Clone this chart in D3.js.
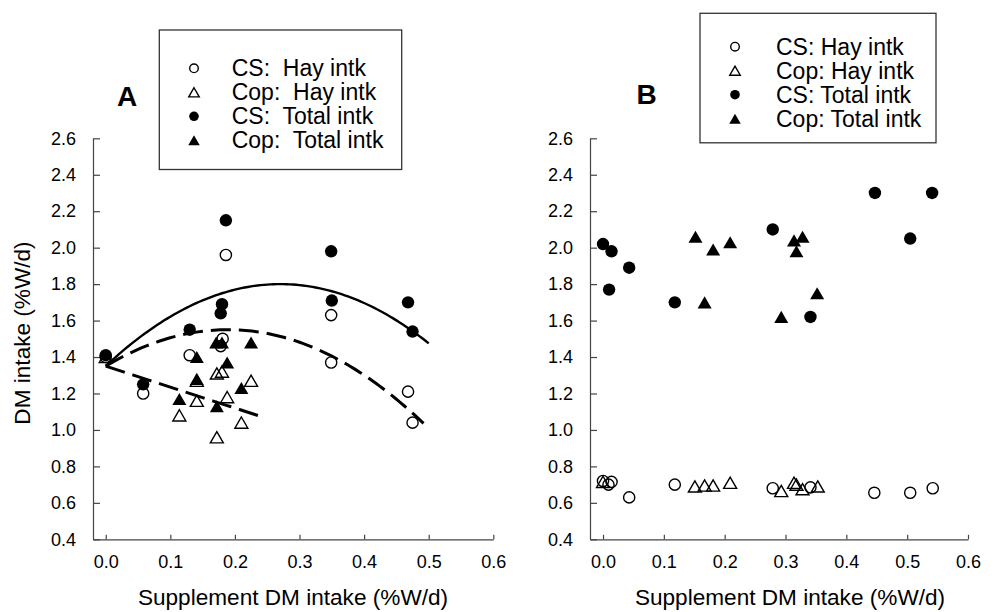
<!DOCTYPE html>
<html><head><meta charset="utf-8">
<script src="https://cdn.jsdelivr.net/npm/d3@7"></script>
<style>
body{margin:0;background:#fff}
text{font-family:Arial,"Liberation Sans",sans-serif;fill:#000}
</style>
</head><body>
<svg id="c" width="1005" height="612"></svg>
<script>
// ---------- tick labels ----------
const xTicks = [0.0, 0.1, 0.2, 0.3, 0.4, 0.5, 0.6];
const yTicks = [0.4, 0.6, 0.8, 1.0, 1.2, 1.4, 1.6, 1.8, 2.0, 2.2, 2.4, 2.6];

// ---------- Panel A data ----------
const aCSHay = [[0.0,1.40],[0.058,1.20],[0.130,1.41],[0.181,1.50],[0.178,1.46],[0.186,1.96],[0.349,1.63],[0.349,1.37],[0.468,1.21],[0.475,1.04]];
const aCopHay = [[0.0,1.40],[0.114,1.08],[0.141,1.16],[0.141,1.27],[0.172,0.96],[0.172,1.31],[0.180,1.32],[0.188,1.18],[0.210,1.04],[0.225,1.27]];
const aCSTotal = [[0.0,1.41],[0.058,1.25],[0.130,1.55],[0.180,1.69],[0.178,1.64],[0.186,2.15],[0.349,1.98],[0.350,1.71],[0.468,1.70],[0.475,1.54]];
const aCopTotal = [[0.114,1.17],[0.141,1.40],[0.141,1.28],[0.172,1.13],[0.171,1.48],[0.180,1.48],[0.188,1.37],[0.210,1.23],[0.225,1.48]];
// regression fits (quadratic coefficients a, b, c) and x range
const fitSolidCoef = [1.35, 3.33, -6.16];   const fitSolidRange = [0, 0.50];
const fitDashUpCoef = [1.35, 2.117, -5.60]; const fitDashUpRange = [0, 0.492];
const fitDashLowCoef = [1.35, -1.15, 0];    const fitDashLowRange = [0, 0.238];

// ---------- Panel B data ----------
const bCSHay = [[0.0,0.72],[0.009,0.70],[0.014,0.715],[0.043,0.63],[0.118,0.70],[0.279,0.68],[0.341,0.685],[0.446,0.655],[0.505,0.655],[0.542,0.68]];
const bCopHay = [[0.0,0.715],[0.151,0.69],[0.167,0.695],[0.181,0.695],[0.209,0.71],[0.293,0.665],[0.314,0.71],[0.318,0.70],[0.328,0.675],[0.353,0.69]];
const bCSTotal = [[0.0,2.02],[0.014,1.98],[0.043,1.89],[0.010,1.77],[0.118,1.70],[0.279,2.10],[0.341,1.62],[0.447,2.30],[0.541,2.30],[0.505,2.05]];
const bCopTotal = [[0.152,2.06],[0.181,1.99],[0.209,2.03],[0.167,1.70],[0.293,1.62],[0.314,2.04],[0.328,2.06],[0.318,1.98],[0.352,1.75]];

// ---------- legend ----------
const legendA = ["CS:  Hay intk","Cop:  Hay intk","CS:  Total intk","Cop:  Total intk"];
const legendB = ["CS: Hay intk","Cop: Hay intk","CS: Total intk","Cop: Total intk"];
const legendKinds = ["openCircle","openTri","fillCircle","fillTri"];

const svg = d3.select("#c");
const axisColor = "#444";

function triPath(w){ const h = w*0.866; return `M0,${-h/2}L${w/2},${h/2}L${-w/2},${h/2}Z`; }

function drawSym(g, kind, x, y, big){
  const r = big ? 5.6 : 4.3;
  const rf = big ? 6.2 : 4.8;
  const tw = big ? 13 : 10.5;
  if(kind==="openCircle") g.append("circle").attr("cx",x).attr("cy",y).attr("r",r).attr("fill","none").attr("stroke","#000").attr("stroke-width",1.4);
  if(kind==="fillCircle") g.append("circle").attr("cx",x).attr("cy",y).attr("r",rf).attr("fill","#000");
  if(kind==="openTri") g.append("path").attr("d",triPath(tw)).attr("transform",`translate(${x},${y})`).attr("fill","none").attr("stroke","#000").attr("stroke-width",1.4);
  if(kind==="fillTri") g.append("path").attr("d",triPath(tw+1)).attr("transform",`translate(${x},${y})`).attr("fill","#000");
}

function panel(opts){
  const {xRange, xMin, series, fits, label, labelPos, legend, legendBox, showYTitle, titleX} = opts;
  const g = svg.append("g");
  const x = d3.scaleLinear().domain([xMin, 0.6]).range(xRange);
  const y = d3.scaleLinear().domain([0.4, 2.6]).range([539.3, 138.3]);
  const x0 = xRange[0];

  const yAx = d3.axisLeft(y).tickValues(yTicks).tickSizeInner(-7).tickSizeOuter(0).tickPadding(17).tickFormat(d3.format(".1f"));
  const xAx = d3.axisBottom(x).tickValues(xTicks).tickSizeInner(-4.5).tickSizeOuter(0).tickPadding(16).tickFormat(d3.format(".1f"));
  const gy = g.append("g").attr("transform",`translate(${x0},0)`).call(yAx);
  const gx = g.append("g").attr("transform",`translate(0,539.3)`).call(xAx);
  [gx,gy].forEach(a=>{
    a.select(".domain").attr("stroke",axisColor).attr("stroke-width",1.2);
    a.selectAll(".tick line").attr("stroke",axisColor).attr("stroke-width",1.2);
    a.selectAll(".tick text").attr("font-size",18).attr("fill","#000").style("font-family","Arial, 'Liberation Sans', sans-serif");
  });

  fits.forEach(f=>{
    const pts = d3.range(0, 101).map(i=>{ const xv = f.range[0] + (f.range[1]-f.range[0])*i/100; return [xv, f.coef[0]+f.coef[1]*xv+f.coef[2]*xv*xv]; });
    g.append("path").datum(pts)
      .attr("d", d3.line().x(d=>x(d[0])).y(d=>y(d[1])))
      .attr("fill","none").attr("stroke","#000").attr("stroke-width",f.dash?3:2.4)
      .attr("stroke-dasharray", f.dash? "20,8" : null);
  });

  series.forEach(s=>{
    s.data.forEach(d=>drawSym(g, s.kind, x(d[0]), y(d[1]), true));
  });

  g.append("text").attr("x", titleX).attr("y", 605).attr("text-anchor","middle").attr("font-size",22.6).text("Supplement DM intake (%W/d)");
  if(showYTitle){
    g.append("text").attr("transform","translate(30,333) rotate(-90)").attr("text-anchor","middle").attr("font-size",22.6).text("DM intake (%W/d)");
  }
  g.append("text").attr("x",labelPos[0]).attr("y",labelPos[1]).attr("text-anchor","middle").attr("font-size",28).attr("font-weight","bold").text(label);

  const lb = legendBox;
  g.append("rect").attr("x",lb.x).attr("y",lb.y).attr("width",lb.w).attr("height",lb.h).attr("fill","#fff").attr("stroke","#333").attr("stroke-width",1.3);
  legend.forEach((t,i)=>{
    const cy = lb.rowY + i*24;
    drawSym(g, legendKinds[i], lb.symX, cy, false);
    g.append("text").attr("x",lb.textX).attr("y",cy+8).attr("font-size",23).style("white-space","pre").attr("xml:space","preserve").text(t);
  });
}

panel({
  xRange:[93, 493.3], xMin:-0.0197,
  series: [{kind:"openCircle",data:aCSHay},{kind:"openTri",data:aCopHay},{kind:"fillCircle",data:aCSTotal},{kind:"fillTri",data:aCopTotal}],
  fits: [{coef:fitSolidCoef,range:fitSolidRange,dash:false},{coef:fitDashUpCoef,range:fitDashUpRange,dash:true},{coef:fitDashLowCoef,range:fitDashLowRange,dash:true}],
  label:"A", labelPos:[127,106],
  legend: legendA,
  legendBox:{x:159.3,y:30,w:242.4,h:139.5,symX:194,textX:231.7,rowY:68.3},
  showYTitle:true, titleX:293
});
panel({
  xRange:[590, 968], xMin:-0.0214,
  series: [{kind:"openCircle",data:bCSHay},{kind:"openTri",data:bCopHay},{kind:"fillCircle",data:bCSTotal},{kind:"fillTri",data:bCopTotal}],
  fits: [],
  label:"B", labelPos:[646.7,104],
  legend: legendB,
  legendBox:{x:700,y:13.3,w:236,h:129.5,symX:735,textX:776,rowY:46.7},
  showYTitle:false, titleX:790
});
</script>
</body></html>
